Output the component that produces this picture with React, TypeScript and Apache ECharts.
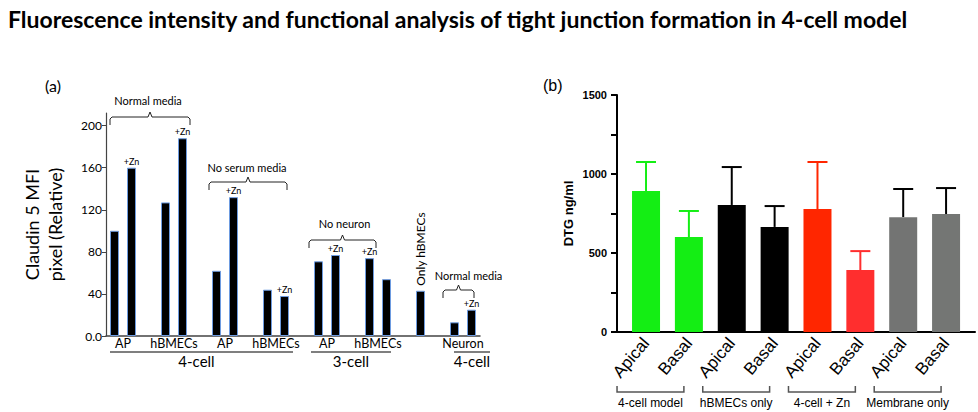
import React, { useEffect, useRef } from 'react';
import * as echarts from 'echarts';

// ---------------- Text ----------------
const TITLE = 'Fluorescence intensity and functional analysis of tight junction formation in 4-cell model';

// ---------------- Panel (a) data ----------------
const A_CATEGORIES = [
  '4c AP', '4c AP +Zn', 'gap1', '4c hBMECs', '4c hBMECs +Zn', 'gap2',
  'ns AP', 'ns AP +Zn', 'gap3', 'ns hBMECs', 'ns hBMECs +Zn', 'gap4',
  '3c AP', '3c AP +Zn', 'gap5', '3c hBMECs +Zn', '3c hBMECs', 'gap6',
  'Only hBMECs', 'gap7', 'Neuron', 'Neuron +Zn',
];
const A_VALUES = [100, 160, null, 127, 188, null, 62, 132, null, 44, 38, null, 71, 77, null, 74, 54, null, 43, null, 13, 25];
const A_ZN = [false, true, false, false, true, false, false, true, false, false, true, false, false, true, false, true, false, false, false, false, false, true];
const A_ROTATED_LABEL_SLOT = 18;
const A_ROTATED_LABEL = 'Only hBMECs';
const A_Y_TICKS_INTERVAL = 40;
const A_Y_NAME = 'Claudin 5 MFI\npixel (Relative)';

const A_SUBLABELS = ['AP', 'hBMECs', 'AP', 'hBMECs', 'AP', 'hBMECs', 'Neuron'];
const A_SUBLABEL_SLOTS = [[0, 1], [3, 4], [6, 7], [9, 10], [12, 13], [15, 16], [20, 21]];
const A_GROUPS = ['4-cell', '3-cell', '4-cell'];
const A_GROUP_SLOTS = [[0, 10], [12, 16], [20, 21]];
const A_BRACES = ['Normal media', 'No serum media', 'No neuron', 'Normal media'];
const A_BRACE_SLOTS = [[0, 4], [6, 10], [12, 15], [20, 21]];

// ---------------- Panel (b) data ----------------
const B_CATEGORIES = ['Apical', 'Basal', 'Apical', 'Basal', 'Apical', 'Basal', 'Apical', 'Basal'];
const B_MEANS = [892, 601, 804, 665, 778, 392, 727, 747];
const B_SD = [184, 165, 240, 132, 298, 120, 178, 164];
const B_GROUPS = ['4-cell model', 'hBMECs only', '4-cell + Zn', 'Membrane only'];

// ---------------- Styles / layout ----------------
const B_BAR_COLORS = ['#14ee14', '#14ee14', '#000000', '#000000', '#ff2600', '#ff2e2e', '#737473', '#747674'];
const B_ERR_COLORS = ['#14ee14', '#14ee14', '#000000', '#000000', '#ff2600', '#ff2e2e', '#000000', '#000000'];
const FA = 'Lato, "Open Sans", sans-serif';
const FB = '"Liberation Sans", Arial, sans-serif';

// per-annotation layout (pixel offsets)
const A_GROUP_EXT = [[4.5, 8.5], [7.5, 4.5], [0.5, 18.5]];
const A_BRACE_EXT = [[4.5, 7.5], [7.5, 2.5], [9.5, 6.5], [11.5, 2.5]];
const A_BRACE_Y = [117, 182, 240, 290];
const A_BRACE_TEXT_Y = [100, 167, 223, 275];
const A_BRACE_TEXT_DX = [-2, -1, 2, 10];

function text(x: number, y: number, t: string, font: string, extra: any = {}) {
  return {
    type: 'text',
    x,
    y,
    silent: true,
    ...extra,
    style: {
      text: t,
      font,
      fill: '#000',
      align: 'center',
      verticalAlign: 'middle',
      textAlign: 'center',
      textVerticalAlign: 'middle',
    },
  };
}

function poly(points: number[][], stroke: string, lineWidth: number) {
  return {
    type: 'polyline',
    silent: true,
    shape: { points },
    style: { stroke, lineWidth, fill: null },
  };
}

export default function App() {
  const ref = useRef<HTMLDivElement>(null);

  useEffect(() => {
    const chart = echarts.init(ref.current!, null, { renderer: 'svg', width: 978, height: 412 });

    const aData = A_VALUES.map((v, i) => {
      const item: any = { value: v };
      if (A_ZN[i]) {
        item.label = { show: true, formatter: '+Zn', position: 'top', distance: 2, fontSize: 9, fontFamily: FA, color: '#000' };
      }
      if (i === A_ROTATED_LABEL_SLOT) {
        item.label = {
          show: true, formatter: A_ROTATED_LABEL, position: 'top', distance: 5, rotate: 90,
          align: 'left', verticalAlign: 'middle', fontSize: 12, fontFamily: FA, color: '#000',
        };
      }
      return item;
    });

    const option: any = {
      animation: false,
      backgroundColor: '#fff',
      title: [
        { text: TITLE, left: 3, top: 2, textStyle: { fontFamily: FA, fontWeight: 'bold', fontSize: 23, color: '#000' } },
        { text: '(a)', left: 40, top: 72, textStyle: { fontFamily: FA, fontWeight: 'normal', fontSize: 16, color: '#000' } },
        { text: '(b)', left: 538, top: 72, textStyle: { fontFamily: FB, fontWeight: 'normal', fontSize: 16, color: '#000' } },
      ],
      grid: [
        { left: 106, top: 113, width: 374, height: 223 },
        { left: 624.6, top: 95, width: 342.9, height: 237 },
        { left: 617, top: 95, width: 358, height: 237 },
      ],
      xAxis: [
        {
          gridIndex: 0, type: 'category', data: A_CATEGORIES,
          axisLine: { lineStyle: { color: '#444', width: 1.5 } },
          axisTick: { show: false }, axisLabel: { show: false },
        },
        {
          gridIndex: 1, type: 'category', data: B_CATEGORIES,
          axisLine: { show: false }, axisTick: { show: false },
          axisLabel: { rotate: 50, margin: 8, fontSize: 17, fontFamily: FB, color: '#000', interval: 0 },
        },
        {
          gridIndex: 2, type: 'value', min: 0, max: 1,
          axisLine: { show: true, onZero: false, lineStyle: { color: '#000', width: 2 } },
          axisTick: { show: false }, axisLabel: { show: false }, splitLine: { show: false },
        },
      ],
      yAxis: [
        {
          gridIndex: 0, type: 'value', min: 0, max: 212, interval: A_Y_TICKS_INTERVAL,
          name: A_Y_NAME, nameLocation: 'middle', nameRotate: 90, nameGap: 40,
          nameTextStyle: { fontFamily: FA, fontSize: 18, lineHeight: 23, color: '#000' },
          axisLine: { show: true, lineStyle: { color: '#444', width: 1.2 } },
          axisTick: { show: true, length: 4, lineStyle: { color: '#444' } },
          axisLabel: {
            showMaxLabel: false, margin: 4, fontSize: 12, fontFamily: FA, color: '#000',
            formatter: (v: number) => (v === 0 ? '0.0' : String(v)),
          },
          splitLine: { show: false },
        },
        {
          gridIndex: 1, type: 'value', min: 0, max: 1500, interval: 250, offset: 7.6,
          name: 'DTG ng/ml', nameLocation: 'middle', nameRotate: 90, nameGap: 42,
          nameTextStyle: { fontFamily: FB, fontSize: 13, fontWeight: 'bold', color: '#000' },
          axisLine: { show: true, lineStyle: { color: '#000', width: 2 } },
          axisTick: { show: true, length: 6, lineStyle: { color: '#000', width: 2 } },
          axisLabel: {
            margin: 10, fontSize: 11, fontWeight: 'bold', fontFamily: FB, color: '#000',
            formatter: (v: number) => (v % 500 === 0 ? String(v) : ''),
          },
          splitLine: { show: false },
        },
        { gridIndex: 2, type: 'value', min: 0, max: 1, show: false },
      ],
      series: [
        {
          type: 'bar', xAxisIndex: 0, yAxisIndex: 0, data: aData, barWidth: 9,
          itemStyle: { color: '#000', borderColor: '#6d9be0', borderWidth: 1 },
        },
        {
          type: 'custom', xAxisIndex: 1, yAxisIndex: 1, z: 1,
          data: B_MEANS.map((m, i) => [i, m, m + B_SD[i]]),
          renderItem: (params: any, api: any) => {
            const base = api.coord([api.value(0), api.value(1)]);
            const top = api.coord([api.value(0), api.value(2)]);
            const c = B_ERR_COLORS[params.dataIndex];
            return {
              type: 'group',
              children: [
                { type: 'line', shape: { x1: base[0], y1: base[1], x2: top[0], y2: top[1] }, style: { stroke: c, lineWidth: 2 } },
                { type: 'line', shape: { x1: top[0] - 10, y1: top[1], x2: top[0] + 10, y2: top[1] }, style: { stroke: c, lineWidth: 2 } },
              ],
            };
          },
        },
        {
          type: 'bar', xAxisIndex: 1, yAxisIndex: 1, z: 2, barWidth: 28,
          data: B_MEANS.map((m, i) => ({ value: m, itemStyle: { color: B_BAR_COLORS[i] } })),
        },
      ],
    };

    chart.setOption(option);

    const ax = (i: number) => chart.convertToPixel({ xAxisIndex: 0 }, i) as number;
    const bx = (i: number) => chart.convertToPixel({ xAxisIndex: 1 }, i) as number;
    const g: any[] = [];

    // Panel (a) sub labels
    A_SUBLABELS.forEach((t, k) => {
      const [s0, s1] = A_SUBLABEL_SLOTS[k];
      g.push(text((ax(s0) + ax(s1)) / 2, 343, t, `12.5px ${FA}`));
    });
    // Panel (a) groups
    A_GROUPS.forEach((t, k) => {
      const [s0, s1] = A_GROUP_SLOTS[k];
      const x1 = ax(s0) - A_GROUP_EXT[k][0];
      const x2 = ax(s1) + A_GROUP_EXT[k][1];
      g.push(poly([[x1, 352], [x2, 352]], '#555', 1.5));
      g.push(text((x1 + x2) / 2 - (k === 0 ? 5 : 0), 361, t, `15px ${FA}`));
    });
    // Panel (a) braces
    A_BRACES.forEach((t, k) => {
      const [s0, s1] = A_BRACE_SLOTS[k];
      const x1 = ax(s0) - A_BRACE_EXT[k][0];
      const x2 = ax(s1) + A_BRACE_EXT[k][1];
      const y = A_BRACE_Y[k];
      const m = (x1 + x2) / 2;
      g.push(poly([
        [x1, y + 8], [x1, y + 2], [x1 + 2, y], [m - 2, y], [m, y - 5], [m + 2, y], [x2 - 2, y], [x2, y + 2], [x2, y + 8],
      ], '#222', 1));
      g.push(text(m + A_BRACE_TEXT_DX[k], A_BRACE_TEXT_Y[k], t, `11px ${FA}`));
    });

    // Panel (b) group brackets
    B_GROUPS.forEach((t, k) => {
      const x1 = bx(2 * k) - 29;
      const x2 = bx(2 * k + 1) - 5;
      g.push(poly([[x1, 386], [x1, 392], [x2, 392], [x2, 386]], '#555', 1.5));
      g.push(text((x1 + x2) / 2, 403, t, `12px ${FB}`));
    });

    chart.setOption({ graphic: g });

    return () => chart.dispose();
  }, []);

  return <div ref={ref} style={{ position: 'fixed', left: 0, top: 0, width: 978, height: 412 }} />;
}
